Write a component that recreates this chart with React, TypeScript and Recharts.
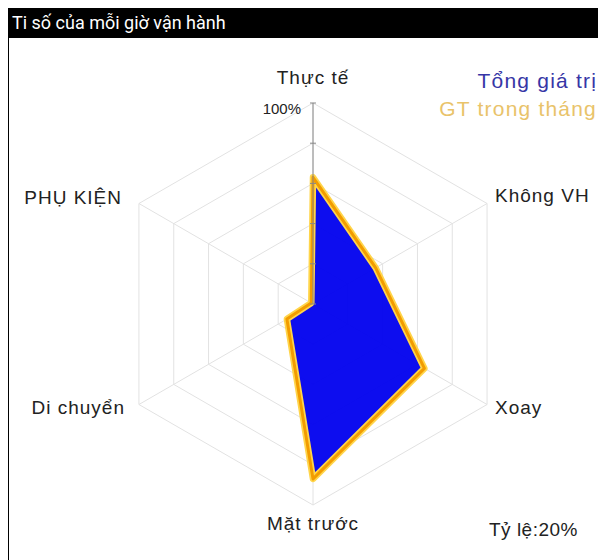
import React from "react";
import { PolarAngleAxis, PolarGrid, PolarRadiusAxis, Radar, RadarChart } from "recharts";

const axes = ["Thực tế", "Không VH", "Xoay", "Mặt trước", "Di chuyển", "PHỤ KIỆN"];
const totalValues = [63, 36, 64, 87, 15, 1];
const monthValues = [63, 36, 64, 87, 15, 1];
const radiusTicks = [0, 20, 40, 60, 80, 100];
const seriesNames = ["Tổng giá trị", "GT trong tháng"];
const seriesColors = ["#3636a6", "#e9c36a"];

const data = axes.map((label, i) => ({ label, total: totalValues[i], month: monthValues[i] }));

const FONT = "'Liberation Sans', Arial, sans-serif";

// where each label sits relative to the point recharts hands us (radius + 8)
const labelShift: Record<number, { dx: number; dy: number }> = {
  0: { dx: 0, dy: -18 },
  1: { dx: 1, dy: -4 },
  2: { dx: 1, dy: -1 },
  3: { dx: 0, dy: 10 },
  4: { dx: -7, dy: -1 },
  5: { dx: -10, dy: -2 },
};

function AngleTick(props: any) {
  const { x, y, textAnchor, index, payload } = props;
  const s = labelShift[index] ?? { dx: 0, dy: 0 };
  return (
    <text
      x={x + s.dx}
      y={y + s.dy}
      textAnchor={textAnchor}
      dominantBaseline="central"
      fontFamily={FONT}
      fontSize={19}
      letterSpacing={1}
      fill="#222"
    >
      {payload.value}
    </text>
  );
}

function RadiusTick(props: any) {
  const { x, y, payload } = props;
  return (
    <g>
      <line x1={x - 3} x2={x + 3} y1={y} y2={y} stroke="#888" />
      {payload.value === 100 && (
        <text x={x - 12} y={y + 11} textAnchor="end" fontFamily={FONT} fontSize={15} fill="#222">
          100%
        </text>
      )}
    </g>
  );
}

export default function App() {
  return (
    <div style={{ width: 598, height: 552, borderLeft: "1px solid #000", boxSizing: "border-box", position: "relative", background: "#fff" }}>
      <style>{"html, body { overflow: hidden; }"}</style>
      <div
        style={{
          height: 30,
          background: "#000",
          color: "#fff",
          fontFamily: "Roboto, sans-serif",
          fontSize: 18,
          lineHeight: "30px",
          paddingLeft: 4,
          marginLeft: -1,
        }}
      >
        Ti số của mỗi giờ vận hành
      </div>
      <RadarChart width={597} height={522} data={data} cx={304} cy={266} outerRadius={201} margin={{ top: 0, right: 0, bottom: 0, left: 0 }}>
        <PolarGrid gridType="polygon" stroke="#e2e2e2" polarRadius={[40.2, 80.4, 120.6, 160.8, 201]} />
        <PolarAngleAxis dataKey="label" tick={<AngleTick />} tickLine={false} axisLine={false} />
        <PolarRadiusAxis angle={90} domain={[0, 100]} ticks={radiusTicks as any} tick={<RadiusTick />} axisLine={{ stroke: "#888" }} />
        <Radar name={seriesNames[0]} dataKey="total" fill="#0000ee" fillOpacity={0.95} stroke="#0000ee" strokeWidth={1} isAnimationActive={false} />
        <Radar name={seriesNames[1]} dataKey="month" fill="none" stroke="#ffd54a" strokeWidth={6.5} strokeLinejoin="round" isAnimationActive={false} />
        <Radar legendType="none" dataKey="month" fill="none" stroke="#f29c00" strokeWidth={3} strokeLinejoin="round" isAnimationActive={false} />
      </RadarChart>
      <div
        style={{
          position: "absolute",
          right: 9,
          top: 59,
          textAlign: "right",
          fontFamily: FONT,
          fontSize: 21,
          lineHeight: "28px",
          letterSpacing: 1.2,
          whiteSpace: "nowrap",
        }}
      >
        {seriesNames.map((n, i) => (
          <div key={n} style={{ color: seriesColors[i] }}>
            {n}
          </div>
        ))}
      </div>
      <div style={{ position: "absolute", left: 480, top: 511, fontFamily: FONT, fontSize: 19, letterSpacing: 0.5, color: "#222" }}>
        Tỷ lệ:20%
      </div>
    </div>
  );
}
